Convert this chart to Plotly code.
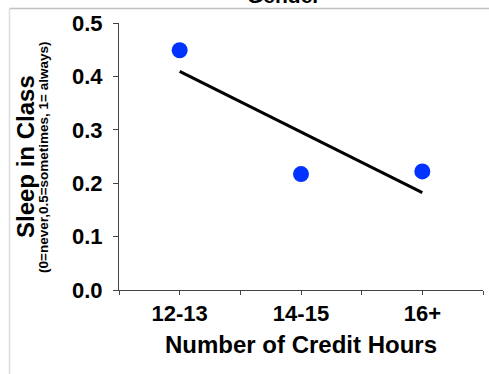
import numpy as np
import plotly.graph_objects as go

categories = ["12-13", "14-15", "16+"]
cat_pos = [1, 2, 3]
sleep_values = [0.449, 0.217, 0.222]
y_ticks = [0.0, 0.1, 0.2, 0.3, 0.4, 0.5]

# linear trendline fitted to the data
slope, intercept = np.polyfit(cat_pos, sleep_values, 1)
trend_x = [cat_pos[0], cat_pos[-1]]
trend_y = [slope * x + intercept for x in trend_x]

W, H = 489, 374
ml, mr, mt, mb = 119, 6, 23, 84
pw, ph = W - ml - mr, H - mt - mb

def px2paper_x(px):
    return (px - ml) / pw

def px2paper_y(py):
    return (H - mb - py) / ph

FONT = "Liberation Sans, Arial, sans-serif"

fig = go.Figure()
fig.add_trace(go.Scatter(x=trend_x, y=trend_y, mode="lines",
                         line=dict(color="black", width=3), showlegend=False,
                         hoverinfo="skip"))
fig.add_trace(go.Scatter(x=cat_pos, y=sleep_values, mode="markers",
                         marker=dict(color="#0033ff", size=16), showlegend=False))

xtickvals = [0.5, 1, 1.5, 2, 2.5, 3, 3.5]
xticktext = ["", categories[0], "", categories[1], "", categories[2], ""]

fig.update_layout(
    width=W, height=H,
    margin=dict(l=ml, r=mr, t=mt, b=mb, autoexpand=False),
    paper_bgcolor="white", plot_bgcolor="white",
    font=dict(family=FONT, color="black"),
    xaxis=dict(range=[0.5, 3.5], tickvals=xtickvals, ticktext=xticktext,
               ticks="outside", ticklen=4, tickwidth=1, tickcolor="#444",
               showline=True, linecolor="#444", linewidth=1,
               showgrid=False, zeroline=False, automargin=False,
               tickfont=dict(family=FONT, size=22, color="black", weight="bold"),
               title=dict(text="<b>Number of Credit Hours</b>",
                          font=dict(family=FONT, size=24, color="black"),
                          standoff=10)),
    yaxis=dict(range=[0, 0.5], tickvals=y_ticks,
               ticktext=[f"{v:.1f}" for v in y_ticks],
               ticks="outside", ticklen=5, tickwidth=1, tickcolor="#444",
               showline=True, linecolor="#444", linewidth=1,
               showgrid=False, zeroline=False, automargin=False,
               tickfont=dict(family=FONT, size=22, color="black", weight="bold"),
               ticklabelstandoff=6),
    annotations=[
        dict(text="<b>Sleep in Class</b>", textangle=-90, showarrow=False,
             xref="paper", yref="paper", x=px2paper_x(25), y=px2paper_y(156),
             xanchor="center", yanchor="middle",
             font=dict(family=FONT, size=24, color="black")),
        dict(text="<b>(0=never,0.5=sometimes, 1= always)</b>", textangle=-90,
             showarrow=False, xref="paper", yref="paper",
             x=px2paper_x(43), y=px2paper_y(157),
             xanchor="center", yanchor="middle",
             font=dict(family=FONT, size=13.5, color="black")),
        dict(text="<b>Gender</b>", showarrow=False, xref="paper", yref="paper",
             x=px2paper_x(284), y=px2paper_y(9), xanchor="center", yanchor="bottom",
             font=dict(family=FONT, size=21, color="black")),
    ],
    shapes=[
        dict(type="line", xref="paper", yref="paper",
             x0=px2paper_x(9.5), x1=px2paper_x(W + 5),
             y0=px2paper_y(8.5), y1=px2paper_y(8.5),
             line=dict(color="#c0c0c0", width=1.5)),
        dict(type="line", xref="paper", yref="paper",
             x0=px2paper_x(9.5), x1=px2paper_x(9.5),
             y0=px2paper_y(8.5), y1=px2paper_y(H + 5),
             line=dict(color="#dcdcdc", width=1.5)),
    ],
)

fig.write_html("out.html",
               config={"displayModeBar": False},
               post_script="document.body.style.margin='0px';"
                           "document.body.style.overflow='hidden';")
